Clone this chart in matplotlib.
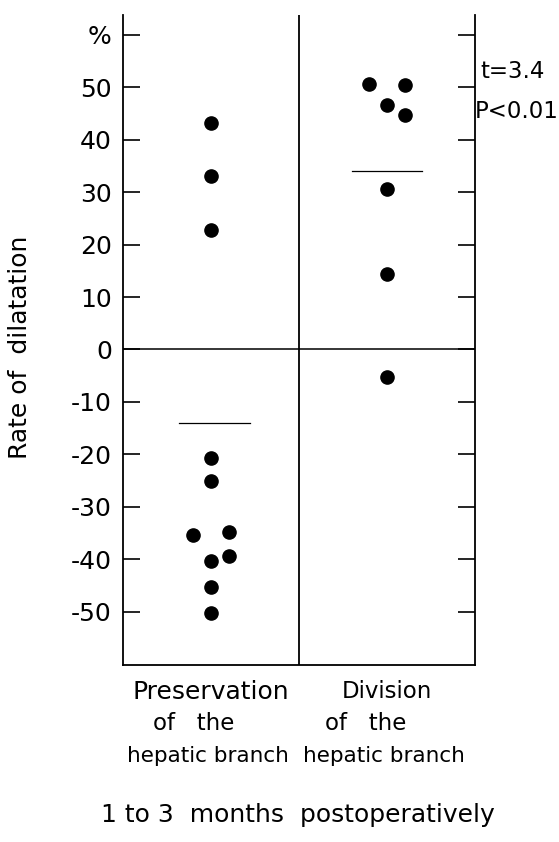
import matplotlib
matplotlib.use("Agg")
import matplotlib.pyplot as plt
import matplotlib.transforms as mtransforms

# ---- data ----
groups = ["Preservation", "Division"]
group_pos = [0.5, 1.5]
pres_values = [43.2, 33.0, 22.8, -20.7, -25.1, -35.4, -34.9, -40.4, -39.4, -45.3, -50.2]
pres_offsets = [0.0, 0.0, 0.0, 0.0, 0.0, -0.1, 0.1, 0.0, 0.1, 0.0, 0.0]
div_values = [50.7, 50.4, 46.6, 44.8, 30.7, 14.3, -5.3]
div_offsets = [-0.1, 0.1, 0.0, 0.1, 0.0, 0.0, 0.0]
pres_mean = -14.0
div_mean = 34.0
yticks = [-50, -40, -30, -20, -10, 0, 10, 20, 30, 40, 50, 60]
ytick_labels = ["-50", "-40", "-30", "-20", "-10", "0", "10", "20", "30", "40", "50", "%"]
cat_line1 = ["Preservation", "Division"]
cat_line2 = ["of   the", "of   the"]
cat_line3 = ["hepatic branch", "hepatic branch"]
stats_text = ["t=3.4", "P<0.01"]
ylabel = "Rate of  dilatation"
footer = "1 to 3  months  postoperatively"

plt.rcParams['font.family'] = ['DejaVu Sans']
fs = 18

fig = plt.figure(figsize=(5.59, 8.42), dpi=100)
ax = fig.add_axes([0.220, 0.2102, 0.630, 0.772])

ax.set_xlim(0, 2)
ax.set_ylim(-60.2, 63.8)

lw = 1.3
for side in ["left", "right", "bottom"]:
    ax.spines[side].set_linewidth(lw)
ax.spines["top"].set_visible(False)

# divider and zero line
ax.axvline(1.0, color="black", lw=lw)
ax.axhline(0.0, color="black", lw=1.1)

# dots
px = [group_pos[0] + o for o in pres_offsets]
dx = [group_pos[1] + o for o in div_offsets]
ax.plot(px, pres_values, 'o', color="black", markersize=9.5, linestyle="none")
ax.plot(dx, div_values, 'o', color="black", markersize=9.5, linestyle="none")

# mean lines
ax.plot([group_pos[0] - 0.18, group_pos[0] + 0.22], [pres_mean, pres_mean], color="black", lw=0.9)
ax.plot([group_pos[1] - 0.2, group_pos[1] + 0.2], [div_mean, div_mean], color="black", lw=0.9)

# ticks
ax.set_yticks(yticks)
ax.set_yticklabels(ytick_labels, fontsize=fs)
ax.tick_params(axis="y", direction="in", length=12, width=1.2, pad=8,
               left=True, right=True, labelleft=True, labelright=False)
ax.set_xticks([])

ax.set_ylabel(ylabel, fontsize=fs)
ax.yaxis.set_label_coords(-0.258, 0.488)

# category labels below axis
trans = mtransforms.blended_transform_factory(ax.transData, fig.transFigure)
line_y = [1 - 692 / 842, 1 - 724 / 842, 1 - 756 / 842]
line1_fs = [18, 16.5]
line2_shift = [-0.1, -0.12]
for i in range(2):
    ax.text(group_pos[i], line_y[0], cat_line1[i], transform=trans, ha="center", va="center", fontsize=line1_fs[i])
    ax.text(group_pos[i] + line2_shift[i], line_y[1], cat_line2[i], transform=trans, ha="center", va="center", fontsize=16.5)
    ax.text(group_pos[i] - 0.02, line_y[2], cat_line3[i], transform=trans, ha="center", va="center", fontsize=15.5)

fig.text(298 / 559, 1 - 815 / 842, footer, ha="center", va="center", fontsize=fs)

# stats
fig.text(480 / 559, 1 - 72 / 842, stats_text[0], ha="left", va="center", fontsize=16.5)
fig.text(475 / 559, 1 - 111 / 842, stats_text[1], ha="left", va="center", fontsize=16.5)

fig.savefig("out.png", dpi=100)
